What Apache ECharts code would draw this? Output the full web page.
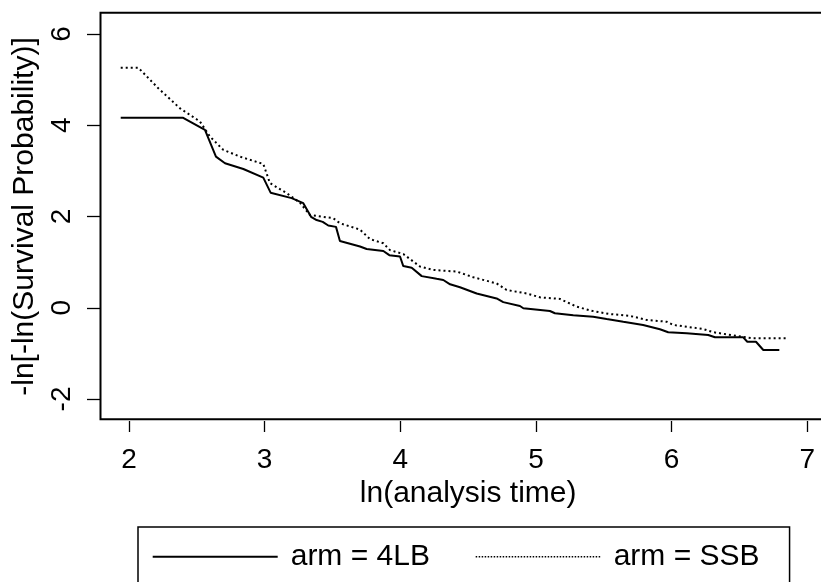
<!DOCTYPE html>
<html>
<head>
<meta charset="utf-8">
<script src="https://cdn.jsdelivr.net/npm/echarts@6/dist/echarts.min.js"></script>
<style>
  html, body { margin: 0; padding: 0; background: #fff; }
  #main { width: 821px; height: 582px; }
</style>
</head>
<body>
<div id="main"></div>
<script>
  // ln(analysis time) / -ln[-ln(S)] for each arm
  var lbX = [1.939, 2.396, 2.560, 2.641, 2.708, 2.843, 2.990, 3.044, 3.199, 3.285, 3.342, 3.383, 3.428, 3.469, 3.526, 3.555, 3.703, 3.752, 3.875, 3.919, 3.998, 4.022, 4.084, 4.158, 4.268, 4.317, 4.367, 4.440, 4.563, 4.710, 4.759, 4.882, 4.907, 5.103, 5.140, 5.275, 5.422, 5.521, 5.644, 5.790, 5.914, 5.975, 6.111, 6.270, 6.320, 6.528, 6.558, 6.622, 6.676, 6.794];
  var lbY = [4.165, 4.165, 3.895, 3.31, 3.164, 3.04, 2.85, 2.52, 2.40, 2.29, 1.99, 1.92, 1.88, 1.80, 1.77, 1.46, 1.34, 1.285, 1.24, 1.15, 1.12, 0.91, 0.875, 0.69, 0.63, 0.605, 0.51, 0.445, 0.31, 0.20, 0.12, 0.035, -0.015, -0.075, -0.125, -0.17, -0.20, -0.25, -0.31, -0.38, -0.476, -0.54, -0.565, -0.60, -0.652, -0.652, -0.75, -0.75, -0.93, -0.93];
  var ssbX = [1.939, 2.069, 2.216, 2.376, 2.523, 2.597, 2.695, 2.818, 2.990, 3.039, 3.162, 3.260, 3.334, 3.506, 3.555, 3.703, 3.777, 3.875, 3.924, 4.022, 4.145, 4.243, 4.415, 4.538, 4.710, 4.784, 4.932, 5.030, 5.177, 5.300, 5.410, 5.540, 5.690, 5.815, 5.963, 6.012, 6.233, 6.307, 6.479, 6.602, 6.853];
  var ssbY = [5.26, 5.26, 4.81, 4.37, 4.08, 3.75, 3.46, 3.31, 3.15, 2.73, 2.51, 2.30, 2.03, 1.96, 1.85, 1.71, 1.50, 1.41, 1.26, 1.175, 0.90, 0.825, 0.79, 0.665, 0.53, 0.385, 0.31, 0.225, 0.19, 0.02, -0.07, -0.14, -0.18, -0.27, -0.31, -0.38, -0.47, -0.54, -0.62, -0.675, -0.675];
  var seriesNames = ['arm = 4LB', 'arm = SSB'];
  var xTicks = { min: 2, max: 7, step: 1 };
  var yTicks = { min: -2, max: 6, step: 2 };

  function pairs(xs, ys) {
    var out = [];
    for (var i = 0; i < xs.length; i++) out.push([xs[i], ys[i]]);
    return out;
  }

  var font = '"Liberation Sans", Arial, Helvetica, sans-serif';
  var myChart = echarts.init(document.getElementById('main'), null, { renderer: 'canvas' });

  var option = {
    animation: false,
    backgroundColor: '#fff',
    textStyle: { fontFamily: font, color: '#000' },
    grid: [
      // plot region with frame (right edge runs off the canvas)
      { left: 100.5, top: 12.7, width: 730.5, bottom: 162.7, outerBoundsMode: 'none', show: true, borderColor: '#000', borderWidth: 2, backgroundColor: 'transparent' },
      // grid used only for the tick axes (spans the 2..7 / -2..6 tick range)
      { left: 129, right: 13.7, top: 34, bottom: 183, outerBoundsMode: 'none', show: false }
    ],
    xAxis: [
      { type: 'value', gridIndex: 0, min: 1.790, max: 7.175, show: false },
      {
        type: 'value', gridIndex: 1, min: xTicks.min, max: xTicks.max, interval: xTicks.step,
        position: 'bottom', offset: 22,
        axisLine: { show: false, onZero: false },
        axisTick: { show: true, length: 11, lineStyle: { color: '#000', width: 1.3 } },
        axisLabel: { color: '#000', fontSize: 28, fontFamily: font, margin: 25 },
        splitLine: { show: false },
        name: 'ln(analysis time)', nameLocation: 'middle', nameGap: 57,
        nameTextStyle: { color: '#000', fontSize: 30, fontFamily: font }
      }
    ],
    yAxis: [
      { type: 'value', gridIndex: 0, min: -2.45, max: 6.467, show: false },
      {
        type: 'value', gridIndex: 1, min: yTicks.min, max: yTicks.max, interval: yTicks.step,
        position: 'left', offset: 29,
        axisLine: { show: false, onZero: false },
        axisTick: { show: true, length: 13, lineStyle: { color: '#000', width: 1.3 } },
        axisLabel: { color: '#000', fontSize: 28, fontFamily: font, margin: 24, rotate: 90 },
        splitLine: { show: false },
        name: '-ln[-ln(Survival Probability)]', nameLocation: 'middle', nameGap: 52,
        nameTextStyle: { color: '#000', fontSize: 30, fontFamily: font }
      }
    ],
    legend: {
      left: 138, top: 527,
      padding: [14.7, 30, 40, 13.7],
      borderColor: '#000', borderWidth: 1.5,
      itemWidth: 125, itemHeight: 14, itemGap: 45,
      itemStyle: { color: 'transparent', borderWidth: 0, opacity: 0 },
      textStyle: { color: '#000', fontSize: 30, fontFamily: font, width: 150, padding: [0, 0, 0, 8] },
      data: [
        { name: seriesNames[0] },
        { name: seriesNames[1], lineStyle: { type: [1.5, 1.5], width: 1.5 } }
      ]
    },
    series: [
      {
        name: seriesNames[0], type: 'line', xAxisIndex: 0, yAxisIndex: 0,
        data: pairs(lbX, lbY), symbol: 'none', showSymbol: false,
        lineStyle: { color: '#000', width: 2 }, itemStyle: { color: '#000' }
      },
      {
        name: seriesNames[1], type: 'line', xAxisIndex: 0, yAxisIndex: 0,
        data: pairs(ssbX, ssbY), symbol: 'none', showSymbol: false,
        lineStyle: { color: '#000', width: 2, type: [2, 3] }, itemStyle: { color: '#000' }
      }
    ]
  };

  myChart.setOption(option);
</script>
</body>
</html>
